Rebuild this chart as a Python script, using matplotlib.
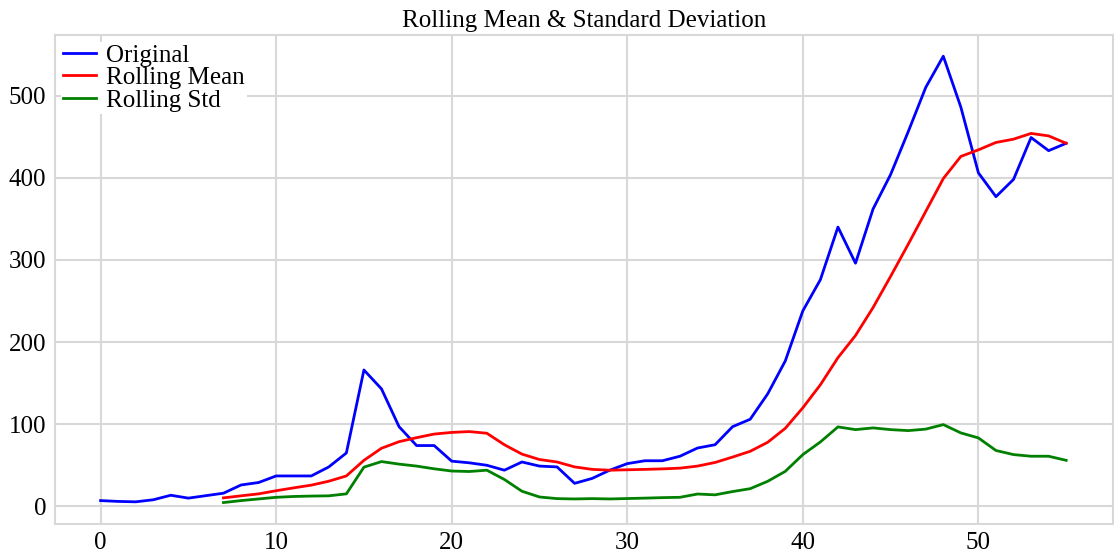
import numpy as np
import matplotlib
matplotlib.use("Agg")
import matplotlib.pyplot as plt

# values
original = [7, 6, 5.5, 8, 13.5, 10, 13, 16, 26, 29,
            37, 37, 37, 48, 65, 166, 143, 97, 74, 74,
            55, 53, 50, 44, 54, 49, 48, 28, 34, 44,
            52, 55.5, 55.5, 61, 71, 75, 97, 106, 137, 177,
            238, 276, 340, 296, 362, 404, 456, 510, 548, 486,
            406, 377, 398, 449, 433, 442]

rol_mean = [10.3, 12.8, 15.2, 19, 22.5, 25.8, 30.6, 37, 56, 70.7,
            78.7, 83.6, 88, 90, 91, 89, 75, 63.6, 57, 54,
            48, 45, 44, 44.5, 45, 45.6, 46.5, 49, 53.4, 60,
            67, 78, 95, 120, 148, 181, 208, 242, 280, 319,
            359, 399, 426, 434, 443, 447, 454, 451, 442]

rol_std = [4.6, 7, 9, 11, 12, 12.5, 12.8, 15.2, 47.7, 54.5,
           51.4, 49, 45.7, 43, 42.4, 44, 32.7, 18.4, 11.4, 9.4,
           9, 9.4, 9, 9.5, 10, 10.6, 11, 15, 14, 18,
           21.5, 30.5, 42.6, 63, 78.4, 96.7, 93.4, 95.5, 93.4, 92.2,
           94, 99.5, 89.4, 83.3, 68, 63, 61, 61, 56]

x = np.arange(len(original))
x_roll = x[len(original) - len(rol_mean):]

plt.rcParams['font.family'] = ['Liberation Serif', 'DejaVu Serif']

fig = plt.figure(figsize=(11.14, 5.51), dpi=100)
ax = fig.add_axes([0.049, 0.049, 0.95, 0.887])

ax.plot(x, original, color='blue', lw=2, label='Original')
ax.plot(x_roll, rol_mean, color='red', lw=2, label='Rolling Mean')
ax.plot(x_roll, rol_std, color='green', lw=2, label='Rolling Std')

ax.set_xlim(-2.62, 57.66)
ax.set_ylim(-21.5, 573.5)
ax.set_xticks([0, 10, 20, 30, 40, 50])
ax.set_yticks([0, 100, 200, 300, 400, 500])
ax.grid(True, color='#d8d8d8', lw=1.5)
ax.set_axisbelow(True)
ax.tick_params(length=0, pad=6, labelsize=18)
for s in ax.spines.values():
    s.set_color('#d8d8d8')
    s.set_linewidth(1.5)

ax.set_title('Rolling Mean & Standard Deviation', fontsize=18, pad=6)
leg = ax.legend(loc='upper left', fontsize=18, labelspacing=0.0,
                handlelength=1.3, borderpad=0.1, borderaxespad=0.25,
                handletextpad=0.4, fancybox=False)
leg.get_frame().set_edgecolor('none')
leg.get_frame().set_alpha(1)

fig.savefig('out.png', dpi=100)
